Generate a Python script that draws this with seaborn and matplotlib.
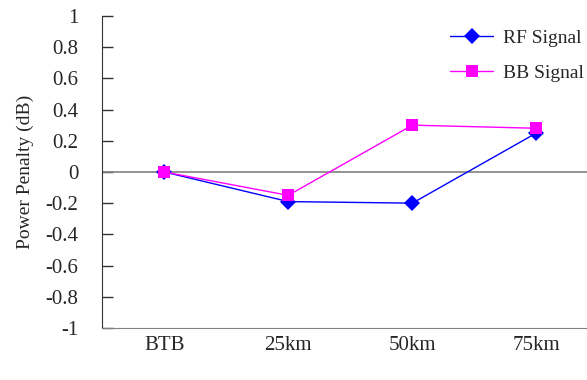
import matplotlib
matplotlib.use('Agg')
import matplotlib.pyplot as plt
import numpy as np
import pandas as pd
import seaborn as sns

sns.set_style('white')
plt.rcParams['font.family'] = ['Liberation Serif', 'DejaVu Serif']

categories = ['BTB', '25km', '50km', '75km']
rf_signal = [0.0, -0.19, -0.20, 0.25]
bb_signal = [0.0, -0.15, 0.30, 0.28]
yticks = [-1, -0.8, -0.6, -0.4, -0.2, 0, 0.2, 0.4, 0.6, 0.8, 1]
ytick_labels = ['-1', '-0.8', '-0.6', '-0.4', '-0.2', '0', '0.2', '0.4', '0.6', '0.8', '1']

df = pd.DataFrame({
    'dist': categories * 2,
    'val': rf_signal + bb_signal,
    'sig': ['RF Signal'] * 4 + ['BB Signal'] * 4,
})

fig = plt.figure(figsize=(5.87, 3.80), dpi=100)
ax = fig.add_axes([0.174, 0.137, 0.835, 0.821])

ax.axhline(0, color='#808080', lw=1.2, zorder=1)
sns.lineplot(data=df, x='dist', y='val', hue='sig', style='sig',
             palette={'RF Signal': '#0000ff', 'BB Signal': '#ff00ff'},
             markers={'RF Signal': 'D', 'BB Signal': 's'}, dashes=False,
             markersize=8, markeredgewidth=0, linewidth=1, ax=ax, zorder=3)
sizes = {'D': 8.5, 's': 8}
for ln in ax.get_lines():
    m = ln.get_marker()
    if m in sizes:
        ln.set_markersize(sizes[m])

ax.set_xlim(-0.5, 3.45)
ax.set_ylim(-1, 1)
ax.set_yticks(yticks)
ax.set_yticklabels(ytick_labels)
ax.set_xlabel('')
ax.set_ylabel('Power Penalty (dB)', fontsize=14, labelpad=8)
ax.tick_params(axis='y', direction='in', length=8, width=1, color='#333333', labelsize=15, pad=17, left=True)
ax.tick_params(axis='x', length=0, labelsize=15, pad=6)
for s in ['top', 'right']:
    ax.spines[s].set_visible(False)
ax.spines['left'].set_color('#333333')
ax.spines['bottom'].set_color('#808080')

leg = ax.legend(loc='upper right', frameon=False, fontsize=14, handlelength=2.2,
                handletextpad=0.5, borderaxespad=0.3, labelspacing=0.9,
                bbox_to_anchor=(1.01, 1.0))
for h in leg.legend_handles:
    m = h.get_marker()
    if m in sizes:
        h.set_markersize(sizes[m])

fig.savefig('out.png', dpi=100)
